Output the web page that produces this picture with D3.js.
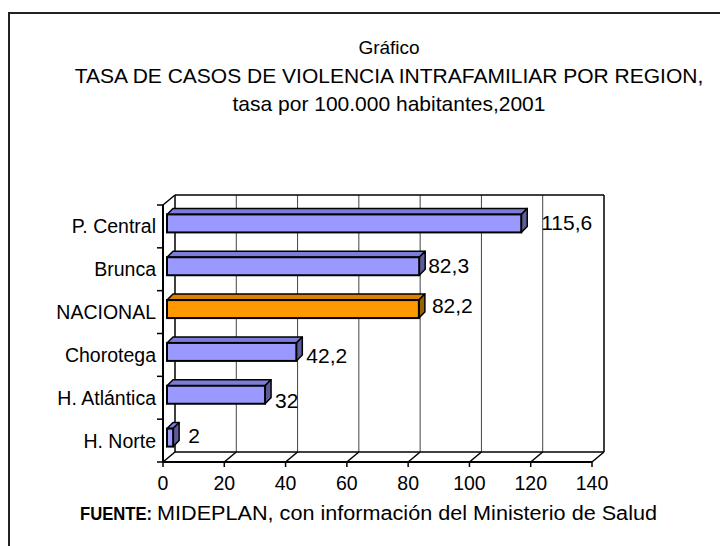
<!DOCTYPE html>
<html>
<head>
<meta charset="utf-8">
<script src="https://cdn.jsdelivr.net/npm/d3@7"></script>
<style>
  body { margin: 0; background: #fff; }
  svg text { font-family: "Liberation Sans", Arial, sans-serif; fill: #000; }
</style>
</head>
<body>
<svg id="chart" width="720" height="546"></svg>
<script>
// data
const regiones = ['P. Central', 'Brunca', 'NACIONAL', 'Chorotega', 'H. Atlántica', 'H. Norte'];
const tasas = [115.6, 82.3, 82.2, 42.2, 32, 2];
const etiquetas = ['115,6', '82,3', '82,2', '42,2', '32', '2'];
const xTicks = [0, 20, 40, 60, 80, 100, 120, 140];
const titulo = ['Gráfico', 'TASA DE CASOS DE VIOLENCIA INTRAFAMILIAR POR REGION,', 'tasa por 100.000 habitantes,2001'];

const svg = d3.select('#chart');
const fs = 19.5;

// outer frame (only left and top visible)
svg.append('path').attr('d', 'M9,546 L9,13 L720,13')
  .attr('fill', 'none').attr('stroke', '#222').attr('stroke-width', 2);

// title
svg.selectAll('text.tit').data(titulo).join('text').attr('class', 'tit')
  .attr('x', 389).attr('y', (d, i) => 54 + i * 28.5)
  .attr('text-anchor', 'middle').style('font-size', (d, i) => i === 0 ? '19px' : '21px').text(d => d);

// 3d box
const pLeft = 163, pRight = 592, pTop = 205, pBottom = 462;
const DX = 12, DY = -10;

const x = d3.scaleLinear().domain([0, 140]).range([pLeft, pRight]);
const y = d3.scaleBand().domain(regiones).range([pTop, pBottom]);

const g = svg.append('g');

// back wall and floor grid
xTicks.forEach(v => {
  g.append('line').attr('x1', x(v) + DX).attr('x2', x(v) + DX)
    .attr('y1', pTop + DY).attr('y2', pBottom + DY)
    .attr('stroke', v === 0 || v === 140 ? '#000' : '#444').attr('stroke-width', v === 0 || v === 140 ? 1.5 : 1);
  g.append('line').attr('x1', x(v)).attr('y1', pBottom)
    .attr('x2', x(v) + DX).attr('y2', pBottom + DY)
    .attr('stroke', '#000').attr('stroke-width', 1.5);
  g.append('line').attr('x1', x(v)).attr('y1', pBottom)
    .attr('x2', x(v)).attr('y2', pBottom + 5)
    .attr('stroke', '#000').attr('stroke-width', 1.5);
});
g.append('line').attr('x1', x(0) + DX).attr('x2', x(140) + DX)
  .attr('y1', pTop + DY).attr('y2', pTop + DY).attr('stroke', '#000').attr('stroke-width', 1.5);
g.append('line').attr('x1', x(0) + DX).attr('x2', x(140) + DX)
  .attr('y1', pBottom + DY).attr('y2', pBottom + DY).attr('stroke', '#000').attr('stroke-width', 1.5);
g.append('line').attr('x1', x(0)).attr('y1', pTop)
  .attr('x2', x(0) + DX).attr('y2', pTop + DY).attr('stroke', '#000').attr('stroke-width', 1.5);

// front axes
g.append('line').attr('x1', x(0)).attr('x2', x(140)).attr('y1', pBottom).attr('y2', pBottom)
  .attr('stroke', '#000').attr('stroke-width', 2);
g.append('line').attr('x1', x(0)).attr('x2', x(0)).attr('y1', pTop).attr('y2', pBottom)
  .attr('stroke', '#000').attr('stroke-width', 2);
const bounds = regiones.map(r => y(r)).concat([pBottom]);
g.selectAll('line.ytick').data(bounds).join('line').attr('class', 'ytick')
  .attr('x1', x(0) - 6).attr('x2', x(0)).attr('y1', d => d).attr('y2', d => d)
  .attr('stroke', '#000').attr('stroke-width', 1.5);

// bars
const bh = 18, bx = 4, by = -3, ddx = 6, ddy = -6;
const colores = regiones.map(r => r === 'NACIONAL'
  ? { front: '#FF9900', top: '#D98200', side: '#996000' }
  : { front: '#9999FF', top: '#7C7CDB', side: '#5C5C99' });

const bars = g.selectAll('g.bar').data(tasas).join('g').attr('class', 'bar');
bars.each(function (v, i) {
  const b = d3.select(this);
  const x0 = x(0) + bx, x1 = x(v) + bx;
  const yc = y(regiones[i]) + y.bandwidth() / 2 + by;
  const yt = yc - bh / 2, yb = yc + bh / 2;
  const c = colores[i];
  b.append('polygon')
    .attr('points', [[x0, yt], [x1, yt], [x1 + ddx, yt + ddy], [x0 + ddx, yt + ddy]].join(' '))
    .attr('fill', c.top).attr('stroke', '#000').attr('stroke-width', 1.5).attr('stroke-linejoin', 'round');
  b.append('polygon')
    .attr('points', [[x1, yt], [x1 + ddx, yt + ddy], [x1 + ddx, yb + ddy], [x1, yb]].join(' '))
    .attr('fill', c.side).attr('stroke', '#000').attr('stroke-width', 1.5).attr('stroke-linejoin', 'round');
  b.append('rect').attr('x', x0).attr('y', yt).attr('width', x1 - x0).attr('height', bh)
    .attr('fill', c.front).attr('stroke', '#000').attr('stroke-width', 2);
});

// value labels
const labelNudge = [[14, 0], [3, 0], [7, -3], [4, 4], [4, 6], [9, -2]];
g.selectAll('text.val').data(tasas).join('text').attr('class', 'val')
  .attr('x', (d, i) => x(d) + bx + ddx + labelNudge[i][0])
  .attr('y', (d, i) => y(regiones[i]) + y.bandwidth() / 2 + by + 7 + labelNudge[i][1])
  .style('font-size', '21px').text((d, i) => etiquetas[i]);

// category labels
g.selectAll('text.cat').data(regiones).join('text').attr('class', 'cat')
  .attr('x', x(0) - 7).attr('y', d => y(d) + y.bandwidth() / 2 + 7)
  .attr('text-anchor', 'end').style('font-size', fs + 'px').text(d => d);

// x tick labels
g.selectAll('text.xt').data(xTicks).join('text').attr('class', 'xt')
  .attr('x', d => x(d)).attr('y', 490)
  .attr('text-anchor', 'middle').style('font-size', fs + 'px').text(d => d);

// source
svg.append('text').attr('x', 80).attr('y', 520).style('font-size', '18px')
  .style('font-weight', 'bold').attr('textLength', 72).attr('lengthAdjust', 'spacingAndGlyphs')
  .text('FUENTE:');
svg.append('text').attr('x', 157).attr('y', 520).style('font-size', '20px')
  .attr('textLength', 500).attr('lengthAdjust', 'spacingAndGlyphs')
  .text('MIDEPLAN, con información del Ministerio de Salud');
</script>
</body>
</html>
